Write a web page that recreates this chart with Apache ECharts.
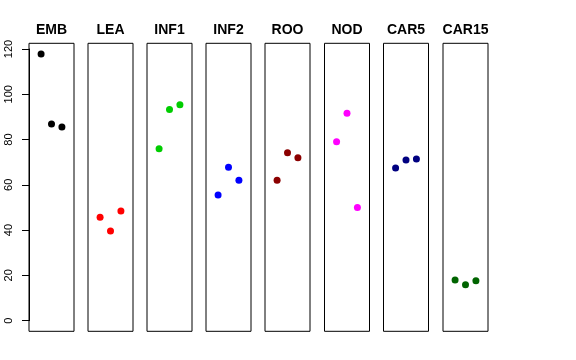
<!DOCTYPE html>
<html><head><meta charset="utf-8">
<script src="https://cdn.jsdelivr.net/npm/echarts@6/dist/echarts.min.js"></script>
<style>html,body{margin:0;padding:0;background:#fff}#c{width:576px;height:360px}</style>
</head><body><div id="c"></div>
<script>
const panels = ["EMB","LEA","INF1","INF2","ROO","NOD","CAR5","CAR15"];
const colors = ["#000000","#FF0000","#00CD00","#0000FF","#8B0000","#FF00FF","#000080","#006400"];
const xPositions = [1,2,3];
const EMB = [117.8, 86.9, 85.5];
const LEA = [45.7, 39.6, 48.4];
const INF1 = [75.9, 93.3, 95.4];
const INF2 = [55.5, 67.7, 62.0];
const ROO = [62.0, 74.2, 72.0];
const NOD = [79.0, 91.6, 50.0];
const CAR5 = [67.4, 70.9, 71.4];
const CAR15 = [18.0, 15.8, 17.6];
const values = [EMB, LEA, INF1, INF2, ROO, NOD, CAR5, CAR15];
const yTicks = [0,20,40,60,80,100,120];

const panelLefts = [29, 88, 147, 206, 265, 324.5, 383.5, 443];
const panelW = 45, gTop = 43.3, gHeight = 288;
const yMin = -4.71, yMax = 122.5;

const grid = [], xAxis = [], yAxis = [], series = [], graphic = [];
panels.forEach((p, i) => {
  grid.push({left: panelLefts[i], top: gTop, width: panelW, height: gHeight, show: true,
    borderColor: '#000', borderWidth: 1, backgroundColor: 'transparent', containLabel: false});
  xAxis.push({gridIndex: i, type: 'value', min: -0.16, max: 4.16, show: false});
  yAxis.push({gridIndex: i, type: 'value', min: yMin, max: yMax, show: false});
  series.push({type: 'scatter', xAxisIndex: i, yAxisIndex: i, symbolSize: 7,
    itemStyle: {color: colors[i], opacity: 1},
    data: values[i].map((v, k) => [xPositions[k], v])});
  graphic.push({type: 'text', x: panelLefts[i] + panelW / 2, y: 30,
    style: {text: p, font: 'bold 14px "Liberation Sans", Arial, sans-serif', fill: '#000',
      align: 'center', verticalAlign: 'middle'}});
});
// y axis grid
const ax = panels.length;
const y0 = gTop + gHeight * (yMax - 0) / (yMax - yMin);
const y120 = gTop + gHeight * (yMax - 120) / (yMax - yMin);
grid.push({left: panelLefts[0], top: y120, width: panelW, height: y0 - y120, show: false});
xAxis.push({gridIndex: ax, type: 'value', min: 0, max: 1, show: false});
yAxis.push({gridIndex: ax, type: 'value', min: yTicks[0], max: yTicks[yTicks.length-1], interval: 20,
  axisLine: {show: true, lineStyle: {color: '#000', width: 1}},
  axisTick: {show: true, length: 7, inside: false, lineStyle: {color: '#000'}},
  splitLine: {show: false},
  axisLabel: {rotate: 90, margin: 15, color: '#000', fontSize: 11,
    fontFamily: '"Liberation Sans", Arial, sans-serif'}});

const chart = echarts.init(document.getElementById('c'), null, {renderer: 'canvas'});
chart.setOption({animation: false, backgroundColor: '#fff', grid, xAxis, yAxis, series, graphic});
</script></body></html>
